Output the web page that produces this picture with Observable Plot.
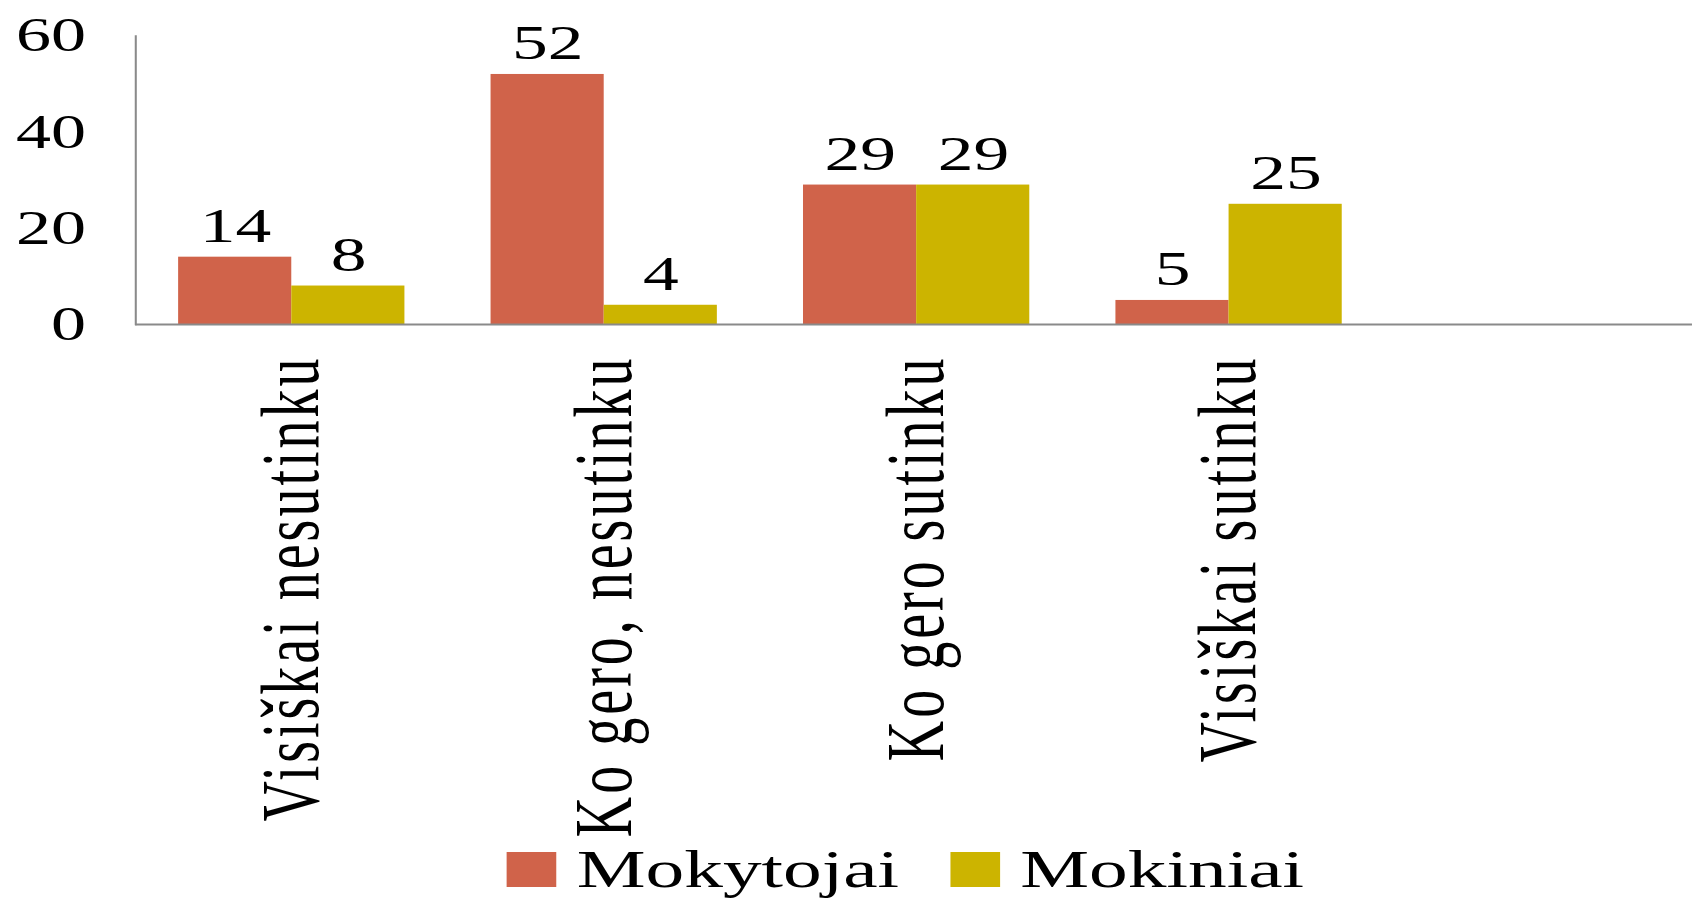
<!DOCTYPE html>
<html>
<head>
<meta charset="utf-8">
<script src="https://cdn.jsdelivr.net/npm/d3@7"></script>
<script src="https://cdn.jsdelivr.net/npm/@observablehq/plot@0.6"></script>
<style>
  html, body { margin: 0; padding: 0; background: #ffffff; overflow: hidden; }
  body { min-height: 898px; }
  #wrap { transform-origin: 0 0; }
  g[aria-label="x-axis tick label"] text { letter-spacing: 3px; }
  #legend { display: flex; align-items: flex-start; font-family: "Liberation Serif"; font-size: 53px; color: #000; }
  #legend .item { display: flex; align-items: flex-start; }
  #legend .sw { width: 34px; height: 35px; }
  #legend .lab { line-height: 35px; padding-bottom: 12px; }
</style>
</head>
<body>
<div id="wrap">
  <div id="chart"></div>
  <div id="legend"></div>
</div>
<script>
const categories = ["Visiškai nesutinku", "Ko gero, nesutinku", "Ko gero sutinku", "Visiškai sutinku"];
const seriesNames = ["Mokytojai", "Mokiniai"];
const mokytojai = [14, 52, 29, 5];
const mokiniai = [8, 4, 29, 25];
const seriesColors = ["#D0634A", "#CCB400"];
const yTicks = [0, 20, 40, 60];

const seriesValues = [mokytojai, mokiniai];
const tables = seriesNames.map((s, k) =>
  categories.map((c, i) => ({category: c, series: s, value: seriesValues[k][i]}))
);

const S = 1.46;            // horizontal stretch of the original picture
const W = 1692 / S;
const H = 840;

document.getElementById("wrap").style.transform = `scaleX(${S})`;
document.getElementById("wrap").style.width = W + "px";

function build(bw) {
  const half = bw / 2;
  return Plot.plot({
    width: W,
    height: H,
    marginTop: 35.5,
    marginBottom: H - 324,
    marginLeft: 92.5,
    marginRight: 0,
    x: {domain: categories, paddingInner: 0.275, paddingOuter: 0.6245, align: 0.11, axis: null},
    y: {domain: [0, 60], axis: null},
    color: {domain: seriesNames, range: seriesColors},
    marks: [
      Plot.barY(tables[0], {x: "category", y: "value", fill: "series", insetRight: half}),
      Plot.barY(tables[1], {x: "category", y: "value", fill: "series", insetLeft: half}),
      ...tables.map((t, k) => Plot.text(t, {
        x: "category", y: "value", text: d => String(d.value),
        dx: (k === 0 ? -1 : 1) * bw / 4, dy: -15, lineAnchor: "bottom",
        fontFamily: "Liberation Serif", fontSize: 49, fill: "#000"
      })),
      Plot.ruleY([0], {stroke: "#8a8a8a", strokeWidth: 2}),
      Plot.frame({anchor: "left", stroke: "#8a8a8a", strokeWidth: 1.4}),
      Plot.axisY({
        ticks: yTicks, tickSize: 0, tickPadding: 34, label: null,
        fontFamily: "Liberation Serif", fontSize: 48, fill: "#000"
      }),
      Plot.axisX({
        anchor: "bottom", tickRotate: -90, tickSize: 0, tickPadding: 31, label: null,
        fontFamily: "Liberation Serif", fontSize: 56, fill: "#000"
      })
    ]
  });
}

const probe = build(0);
const bandwidth = probe.scale("x").bandwidth;
const chart = build(bandwidth);
document.getElementById("chart").appendChild(chart);

const legend = document.getElementById("legend");
legend.style.marginLeft = "347px";
legend.style.marginTop = "12px";
seriesNames.forEach((name, i) => {
  const item = document.createElement("div");
  item.className = "item";
  item.style.marginRight = "35px";
  const sw = document.createElement("div");
  sw.className = "sw";
  sw.style.background = seriesColors[i];
  sw.style.marginRight = "14px";
  const lab = document.createElement("div");
  lab.className = "lab";
  lab.textContent = name;
  item.appendChild(sw);
  item.appendChild(lab);
  legend.appendChild(item);
});
</script>
</body>
</html>
